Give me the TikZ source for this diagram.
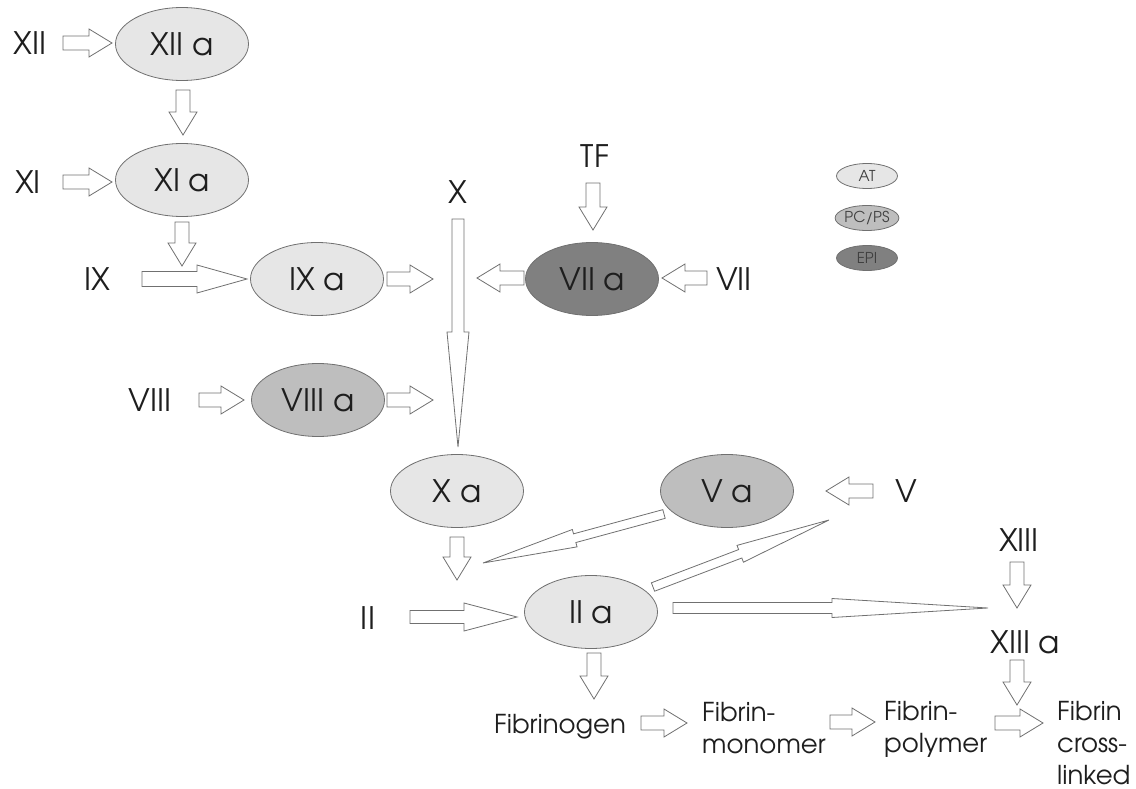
\documentclass[tikz,border=0pt]{standalone}
\usepackage{fontspec}
\setmainfont{TeX Gyre Adventor}
\usetikzlibrary{shapes.geometric,calc}
\definecolor{atfill}{HTML}{E6E6E6}
\definecolor{pcfill}{HTML}{BEBEBE}
\definecolor{epifill}{HTML}{808080}
\definecolor{lin}{HTML}{707070}
\definecolor{txt}{HTML}{1E1E1E}
\newcommand{\barrow}[5]{%
  \coordinate (bah) at ($(#2)!#5!(#1)$);
  \draw[blk] ($(#1)!#3!90:(#2)$) -- ($(bah)!#3!90:(#2)$) -- ($(bah)!#4!90:(#2)$) -- (#2)
    -- ($(bah)!#4!-90:(#2)$) -- ($(bah)!#3!-90:(#2)$) -- ($(#1)!#3!-90:(#2)$) -- cycle;}
\newcommand{\sarrow}[2]{\barrow{#1}{#2}{7pt}{14pt}{23pt}}
\begin{document}
\begin{tikzpicture}[x=1pt,y=-1pt,
  blk/.style={draw=lin,fill=white,line width=0.8pt,line join=miter},
  ell/.style={ellipse,draw=lin,line width=0.8pt,minimum width=133pt,minimum height=73pt,inner sep=0pt,text=txt,font=\fontsize{31}{31}\selectfont},
  leg/.style={ellipse,draw=lin,line width=0.8pt,minimum width=61pt,minimum height=25pt,inner sep=0pt,text=txt!85,font=\fontsize{15}{15}\selectfont},
  lab/.style={inner sep=0pt,text=txt,font=\fontsize{31}{31}\selectfont},
  fib/.style={inner sep=0pt,text=txt,align=left,anchor=base west,font=\fontsize{26}{32}\selectfont}]
\useasboundingbox (0,0) rectangle (1136,789);
% enzyme ellipses
\node[ell,fill=atfill] (XIIa) at (182,44) {XII a};
\node[ell,fill=atfill] (XIa) at (182,180) {XI a};
\node[ell,fill=atfill] (IXa) at (317,279) {IX a};
\node[ell,fill=epifill] (VIIa) at (592,279) {VII a};
\node[ell,fill=pcfill] (VIIIa) at (318,400) {VIII a};
\node[ell,fill=atfill] (Xa) at (457,491) {X a};
\node[ell,fill=pcfill] (Va) at (727,491) {V a};
\node[ell,fill=atfill] (IIa) at (591,612) {II a};
% legend
\node[leg,fill=atfill] (AT) at (867,176) {AT};
\node[leg,fill=pcfill] (PCPS) at (867,218) {PC/PS};
\node[leg,fill=epifill] (EPI) at (867,258) {EPI};
% labels
\node[lab] (lXII) at (30,43) {XII};
\node[lab] (lXI) at (28,182) {XI};
\node[lab] (lIX) at (97,279) {IX};
\node[lab] (lVIII) at (150,400) {VIII};
\node[lab] (lX) at (458,192) {X};
\node[lab] (lTF) at (595,156) {TF};
\node[lab] (lVII) at (734,279) {VII};
\node[lab] (lV) at (906,491) {V};
\node[lab] (lXIII) at (1019,540) {XIII};
\node[lab] (lXIIIa) at (1025,642) {XIII a};
\node[lab] (lII) at (368,618) {II};
\node[fib] (fibrinogen) at (494,733) {Fibrinogen};
\node[fib] (monomer) at (702,753) {Fibrin-\\monomer};
\node[fib] (polymer) at (884,752) {Fibrin-\\polymer};
\node[fib] (crosslinked) at (1057,784) {Fibrin\\cross-\\linked};
% arrow end points
\coordinate (a1s) at (63,43);   \coordinate (a1e) at (112,43);
\coordinate (a2s) at (183,90);  \coordinate (a2e) at (183,135);
\coordinate (a3s) at (63,182);  \coordinate (a3e) at (112,182);
\coordinate (a4s) at (182,222); \coordinate (a4e) at (182,266);
\coordinate (a5s) at (142,279); \coordinate (a5e) at (247,279);
\coordinate (a6s) at (387,279); \coordinate (a6e) at (433,279);
\coordinate (a7s) at (524,278); \coordinate (a7e) at (477,278);
\coordinate (a8s) at (707,278); \coordinate (a8e) at (662,278);
\coordinate (a9s) at (593,183); \coordinate (a9e) at (593,230);
\coordinate (a10s) at (458,219); \coordinate (a10e) at (458,447);
\coordinate (a11s) at (199,400); \coordinate (a11e) at (244,400);
\coordinate (a12s) at (387,400); \coordinate (a12e) at (433,400);
\coordinate (a13s) at (457,537); \coordinate (a13e) at (457,580);
\coordinate (a14s) at (664,514); \coordinate (a14e) at (483,563);
\coordinate (a15s) at (873,491); \coordinate (a15e) at (826,491);
\coordinate (a16s) at (653,587); \coordinate (a16e) at (829,520);
\coordinate (a17s) at (410,617); \coordinate (a17e) at (517,617);
\coordinate (a18s) at (673,608); \coordinate (a18e) at (988,608);
\coordinate (a19s) at (1017,562); \coordinate (a19e) at (1017,608);
\coordinate (a20s) at (594,653); \coordinate (a20e) at (594,699);
\coordinate (a21s) at (1017,660); \coordinate (a21e) at (1017,705);
\coordinate (a22s) at (641,723); \coordinate (a22e) at (687,723);
\coordinate (a23s) at (830,722); \coordinate (a23e) at (875,722);
\coordinate (a24s) at (995,723); \coordinate (a24e) at (1043,723);
% arrows
\sarrow{a1s}{a1e}
\sarrow{a2s}{a2e}
\sarrow{a3s}{a3e}
\sarrow{a4s}{a4e}
\barrow{a5s}{a5e}{7.5pt}{14pt}{50pt}
\sarrow{a6s}{a6e}
\sarrow{a7s}{a7e}
\sarrow{a8s}{a8e}
\sarrow{a9s}{a9e}
\barrow{a10s}{a10e}{6pt}{11pt}{115pt}
\sarrow{a11s}{a11e}
\sarrow{a12s}{a12e}
\sarrow{a13s}{a13e}
\barrow{a14s}{a14e}{4.5pt}{9pt}{95pt}
\sarrow{a15s}{a15e}
\barrow{a16s}{a16e}{4.5pt}{9pt}{95pt}
\barrow{a17s}{a17e}{6.5pt}{14pt}{53pt}
\barrow{a18s}{a18e}{5.5pt}{9.5pt}{156pt}
\sarrow{a19s}{a19e}
\sarrow{a20s}{a20e}
\sarrow{a21s}{a21e}
\sarrow{a22s}{a22e}
\sarrow{a23s}{a23e}
\sarrow{a24s}{a24e}
\end{tikzpicture}
\end{document}
